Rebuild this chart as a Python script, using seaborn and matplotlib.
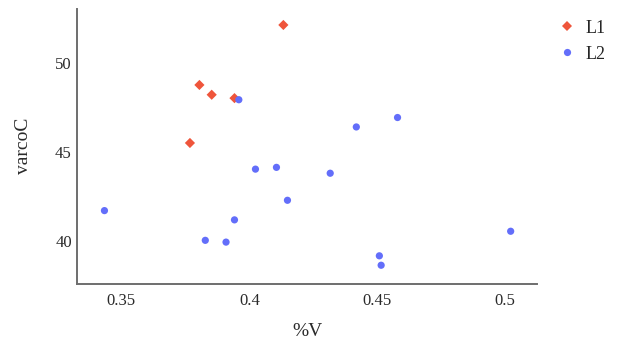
import matplotlib.pyplot as plt
import seaborn as sns
import pandas as pd

# series L1 (diamonds)
l1_x = [0.4133, 0.3805, 0.3853, 0.3942, 0.3768]
l1_y = [52.15, 48.78, 48.23, 48.04, 45.52]

# series L2 (circles)
l2_x = [0.3959, 0.4418, 0.4579, 0.4106, 0.4024, 0.4316, 0.3434, 0.4149,
        0.3942, 0.3828, 0.3909, 0.4508, 0.4515, 0.5021]
l2_y = [47.95, 46.42, 46.95, 44.15, 44.05, 43.82, 41.72, 42.30,
        41.20, 40.05, 39.95, 39.18, 38.65, 40.56]

x_ticks = [0.35, 0.4, 0.45, 0.5]
x_tick_labels = ["0.35", "0.4", "0.45", "0.5"]
y_ticks = [40, 45, 50]

df = pd.concat([
    pd.DataFrame({"%V": l1_x, "varcoC": l1_y, "series": "L1"}),
    pd.DataFrame({"%V": l2_x, "varcoC": l2_y, "series": "L2"}),
])

sns.set_style("white")
plt.rcParams["font.family"] = ["Liberation Serif", "DejaVu Serif"]

fig = plt.figure(figsize=(6.18, 3.41), dpi=100)
ax = fig.add_axes([0.1251, 0.1663, 0.8694 - 0.1251, 0.9727 - 0.1663])

sns.scatterplot(
    df, x="%V", y="varcoC",
    hue="series", style="series",
    palette={"L1": "#EF553B", "L2": "#636EFA"},
    markers={"L1": "D", "L2": "o"},
    s=27, linewidth=0, ax=ax, legend=True,
)

ax.set_xlim(0.3328, 0.5125)
ax.set_ylim(37.58, 53.03)
ax.set_xticks(x_ticks)
ax.set_xticklabels(x_tick_labels)
ax.set_yticks(y_ticks)
ax.tick_params(length=0, labelsize=12, colors="#2a2a2a")
ax.tick_params(axis="x", pad=6)
ax.tick_params(axis="y", pad=4)

for side in ["top", "right"]:
    ax.spines[side].set_visible(False)
for side in ["left", "bottom"]:
    ax.spines[side].set_color("#6e6e6e")
    ax.spines[side].set_linewidth(1.4)

ax.set_xlabel("%V", fontsize=14, color="#2a2a2a", va="center", ha="center")
ax.set_ylabel("varcoC", fontsize=14, color="#2a2a2a", va="center", ha="center")
ax.xaxis.set_label_coords(0.501, -0.172)
ax.yaxis.set_label_coords(-0.118, 0.503)

handles, labels = ax.get_legend_handles_labels()
ax.legend(handles, labels, loc="upper left", bbox_to_anchor=(0.9024, 0.942),
          bbox_transform=fig.transFigure, frameon=False, fontsize=13,
          borderpad=0, borderaxespad=0, handlelength=1, handletextpad=0.52,
          labelspacing=0.49)

fig.savefig("out.png", dpi=100)
